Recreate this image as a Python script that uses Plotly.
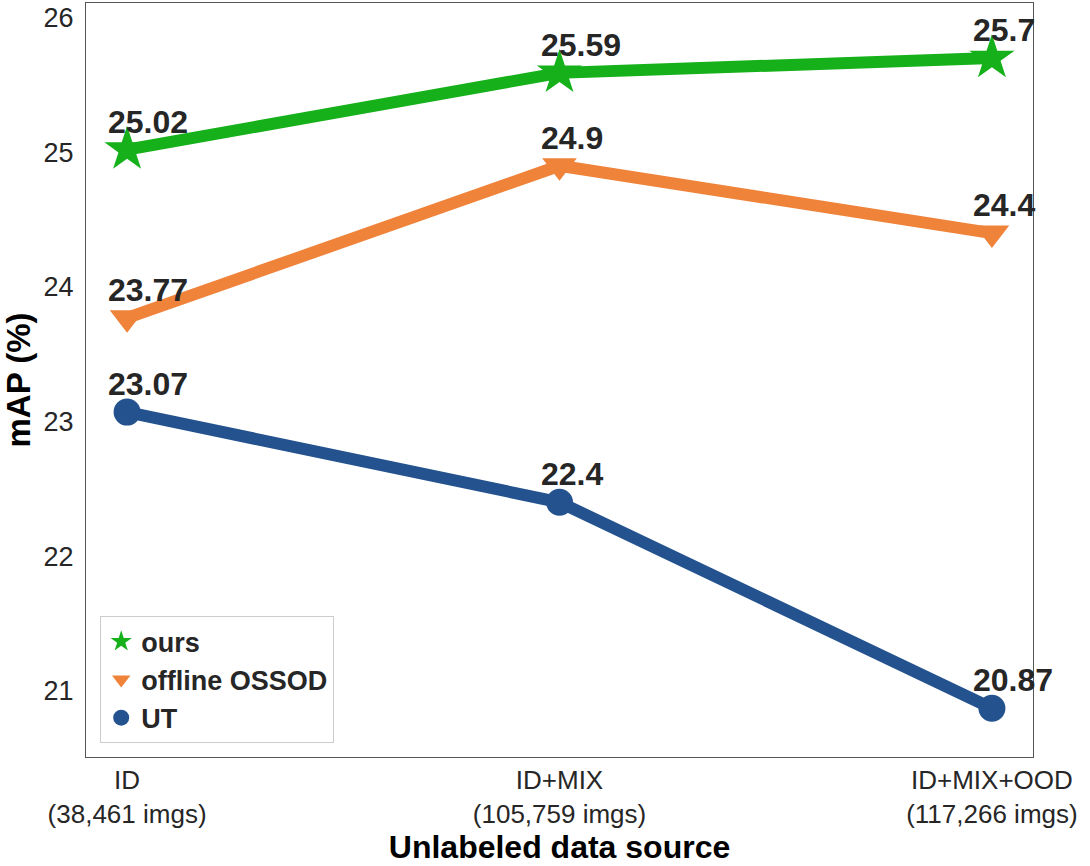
import plotly.graph_objects as go

# data
sources = ["ID", "ID+MIX", "ID+MIX+OOD"]
img_counts = ["38,461", "105,759", "117,266"]
ours = [25.02, 25.59, 25.70]
offline_ossod = [23.77, 24.90, 24.40]
ut = [23.07, 22.40, 20.87]
labels_ours = ["25.02", "25.59", "25.7"]
labels_offline = ["23.77", "24.9", "24.4"]
labels_ut = ["23.07", "22.4", "20.87"]

FONT = "Liberation Sans, Arial, sans-serif"
TXT = "#262626"

series = [
    ("ours", ours, labels_ours, "#15b01a", "star", 34),
    ("offline OSSOD", offline_ossod, labels_offline, "#f0833a", "triangle-down", 30),
    ("UT", ut, labels_ut, "#23528e", "circle", 27),
]

xs = list(range(len(sources)))
fig = go.Figure()

for name, vals, labs, color, sym, size in series:
    fig.add_trace(go.Scatter(
        x=xs, y=vals, mode="lines+markers",
        line=dict(color=color, width=12),
        marker=dict(symbol=sym, size=size, color=color, line=dict(width=0)),
        showlegend=False, hoverinfo="skip",
    ))
    # legend entry shows the marker only
    fig.add_trace(go.Scatter(
        x=[None], y=[None], mode="markers", name=name,
        marker=dict(symbol=sym, size=size, color=color),
    ))
    for xi, v, lab in zip(xs, vals, labs):
        fig.add_annotation(
            x=xi, y=v, text=lab, showarrow=False,
            xanchor="left", yanchor="middle", xshift=-21, yshift=28,
            font=dict(family=FONT, size=32, color=TXT, weight="bold"),
        )

ticktext = [f"{s}<br>({c} imgs)" for s, c in zip(sources, img_counts)]

fig.update_xaxes(
    range=[-0.095, 2.095], tickvals=xs, ticktext=ticktext,
    showgrid=False, zeroline=False, ticks="", ticklabelstandoff=0,
    showline=True, mirror=True, linecolor="#555555", linewidth=1.2,
    tickfont=dict(family=FONT, size=26, color=TXT),
    title=dict(text="Unlabeled data source", standoff=0,
               font=dict(family=FONT, size=32, color="black", weight="bold")),
)
fig.update_yaxes(
    range=[20.508, 26.109], tickvals=[21, 22, 23, 24, 25, 26],
    showgrid=False, zeroline=False, ticks="", ticklabelstandoff=6,
    showline=True, mirror=True, linecolor="#555555", linewidth=1.2,
    tickfont=dict(family=FONT, size=27, color=TXT),
    title=dict(text="mAP (%)", standoff=6,
               font=dict(family=FONT, size=33, color="black", weight="bold")),
)

fig.update_layout(
    width=1090, height=866,
    margin=dict(l=86, r=57, t=3, b=109, autoexpand=False),
    plot_bgcolor="white", paper_bgcolor="white",
    legend=dict(
        x=0.015, y=0.018, xanchor="left", yanchor="bottom",
        bgcolor="rgba(255,255,255,0.8)", bordercolor="#cccccc", borderwidth=1,
        font=dict(family=FONT, size=27, color=TXT, weight="bold"),
        tracegroupgap=0,
    ),
)

# drop the page's default body margin so the figure sits at the window corner
fig.write_html("out.html", config={"displayModeBar": False},
               post_script="document.body.style.margin='0';")
